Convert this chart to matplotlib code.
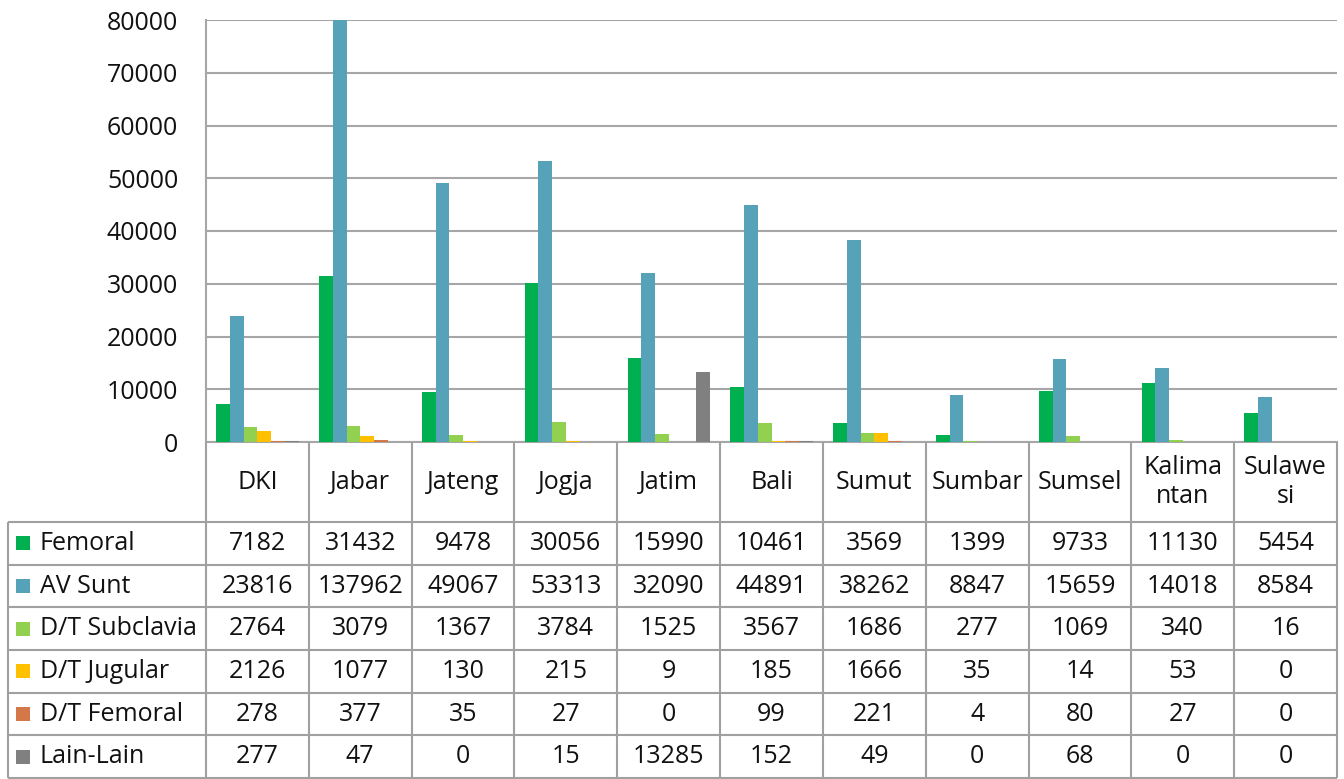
import matplotlib
matplotlib.use("Agg")
import matplotlib.pyplot as plt
import numpy as np

plt.rcParams['font.family'] = ['Open Sans', 'DejaVu Sans']

regions = ["DKI", "Jabar", "Jateng", "Jogja", "Jatim", "Bali", "Sumut",
           "Sumbar", "Sumsel", "Kalimantan", "Sulawesi"]
region_headers = ["DKI", "Jabar", "Jateng", "Jogja", "Jatim", "Bali", "Sumut",
                  "Sumbar", "Sumsel", "Kalima\nntan", "Sulawe\nsi"]

series_names = ["Femoral", "AV Sunt", "D/T Subclavia", "D/T Jugular",
                "D/T Femoral", "Lain-Lain"]

femoral = [7182, 31432, 9478, 30056, 15990, 10461, 3569, 1399, 9733, 11130, 5454]
av_sunt = [23816, 137962, 49067, 53313, 32090, 44891, 38262, 8847, 15659, 14018, 8584]
dt_subclavia = [2764, 3079, 1367, 3784, 1525, 3567, 1686, 277, 1069, 340, 16]
dt_jugular = [2126, 1077, 130, 215, 9, 185, 1666, 35, 14, 53, 0]
dt_femoral = [278, 377, 35, 27, 0, 99, 221, 4, 80, 27, 0]
lain_lain = [277, 47, 0, 15, 13285, 152, 49, 0, 68, 0, 0]

series_values = [femoral, av_sunt, dt_subclavia, dt_jugular, dt_femoral, lain_lain]
series_colors = ["#00B050", "#56A2B8", "#92D050", "#FFC000", "#D4784A", "#808080"]

y_ticks = [0, 10000, 20000, 30000, 40000, 50000, 60000, 70000, 80000]

W, H = 1344, 779
fig = plt.figure(figsize=(W / 100, H / 100), dpi=100)

# pixel geometry of the chart
plot_left, plot_right, plot_top, plot_bottom = 206, 1337, 20, 442
table_left, table_bottom = 8, 778
header_bottom = 522
FS = 18
TXT = "#111111"
GRID = "#A6A6A6"
LINE = "#A0A0A0"

ax = fig.add_axes([plot_left / W, (H - plot_bottom) / H,
                   (plot_right - plot_left) / W, (plot_bottom - plot_top) / H])

n_cat = len(regions)
n_ser = len(series_values)
x = np.arange(n_cat)
gap = 1.5
bar_w = 1.0 / (n_ser + gap)
for i, (vals, col) in enumerate(zip(series_values, series_colors)):
    offs = (i - (n_ser - 1) / 2) * bar_w
    ax.bar(x + offs, vals, width=bar_w, color=col, linewidth=0, zorder=3)

ax.set_xlim(-0.5, n_cat - 0.5)
ax.set_ylim(0, 80000)
ax.set_yticks(y_ticks)
ax.set_yticklabels([str(v) for v in y_ticks], fontsize=FS, color=TXT)
ax.tick_params(axis="y", length=0, pad=20)
ax.set_xticks([])
ax.grid(axis="y", color=GRID, linewidth=1.5, zorder=0)
for s in ["top", "right"]:
    ax.spines[s].set_visible(False)
ax.spines["left"].set_color(GRID)
ax.spines["left"].set_linewidth(1.5)
ax.spines["bottom"].set_color(GRID)
ax.spines["bottom"].set_linewidth(1.5)

# data table below the bars, sharing the category positions
cw = (plot_right - plot_left) / n_cat
x_left = -0.5 - (plot_left - table_left) / cw
tax = fig.add_axes([table_left / W, (H - table_bottom) / H,
                    (plot_right - table_left) / W, (table_bottom - plot_bottom) / H])
tax.set_xlim(x_left, n_cat - 0.5)
tax.set_ylim(table_bottom, plot_bottom)
tax.axis("off")

row_h = (table_bottom - header_bottom) / n_ser
row_edges = [header_bottom + k * row_h for k in range(n_ser + 1)]

for y in row_edges:
    tax.plot([x_left, n_cat - 0.5], [y, y], color=LINE, lw=1.5, clip_on=False,
             solid_capstyle="butt")
for k in range(n_cat + 1):
    tax.plot([-0.5 + k, -0.5 + k], [plot_bottom, table_bottom], color=LINE,
             lw=1.5, clip_on=False, solid_capstyle="butt")
tax.plot([x_left, x_left], [header_bottom, table_bottom], color=LINE, lw=1.5,
         clip_on=False, solid_capstyle="butt")

header_mid = (plot_bottom + header_bottom) / 2
for i, h in enumerate(region_headers):
    tax.text(i, header_mid, h, ha="center", va="center", fontsize=FS,
             color=TXT, linespacing=1.25)

px = 1.0 / cw
for r, (name, vals, col) in enumerate(zip(series_names, series_values, series_colors)):
    yc = header_bottom + (r + 0.5) * row_h
    tax.plot([x_left + 15 * px], [yc], marker="s", ms=10, color=col,
             markeredgewidth=0, clip_on=False)
    tax.text(x_left + 32 * px, yc, name, ha="left", va="center", fontsize=FS,
             color=TXT)
    for i, v in enumerate(vals):
        tax.text(i, yc, str(v), ha="center", va="center", fontsize=FS,
                 color=TXT)

fig.savefig("out.png", dpi=100)
